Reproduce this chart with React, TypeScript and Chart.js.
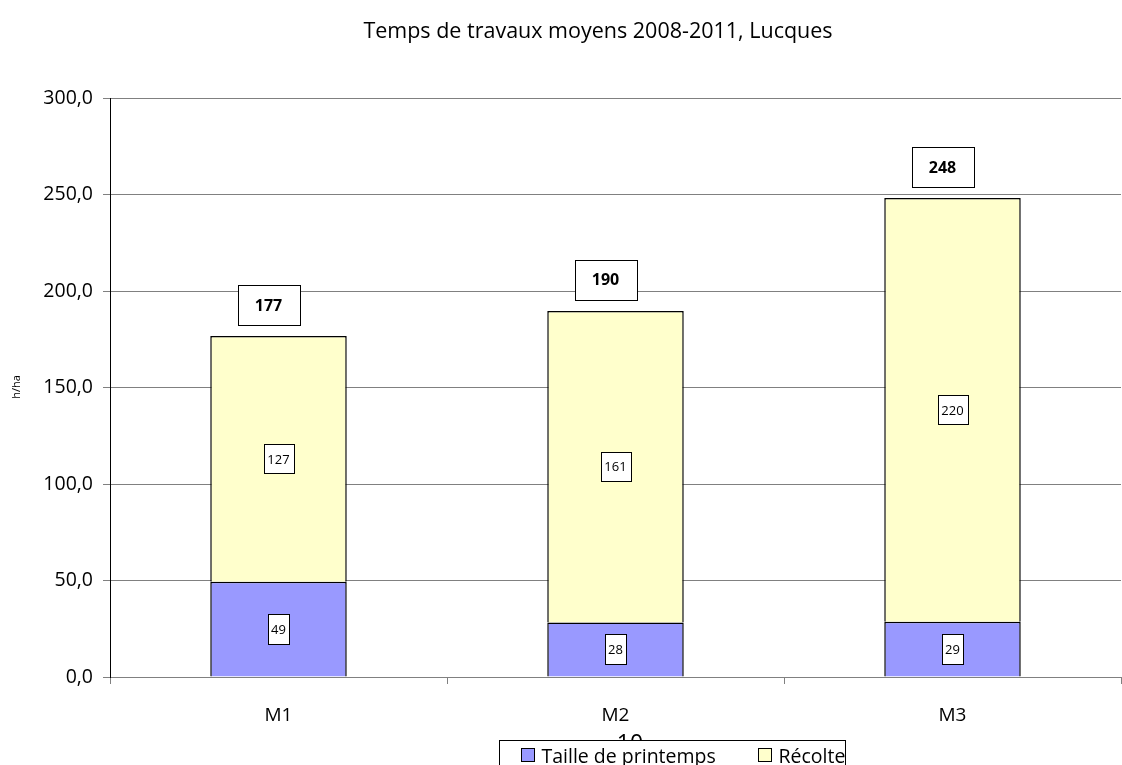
import React, { useEffect, useRef } from "react";
import { Chart, registerables } from "chart.js";

Chart.register(...registerables);

const chartTitle = "Temps de travaux moyens 2008-2011, Lucques";
const yAxisTitle = "h/ha";
const categories = ["M1", "M2", "M3"];
const seriesNames = ["Taille de printemps", "Récolte"];
const taille = [49.3, 28.3, 28.6];
const recolte = [127.4, 161.4, 219.6];
const taillesLabels = ["49", "28", "29"];
const recolteLabels = ["127", "161", "220"];
const totalLabels = ["177", "190", "248"];
const yTicks = [0, 50, 100, 150, 200, 250, 300];
const pageNumber = "10";

const colors = ["#9999FF", "#FFFFCC"];
const FONT = "'Open Sans', 'Noto Sans', sans-serif";

const overlay = {
  id: "overlay",
  afterDatasetsDraw(chart: any) {
    const ctx = chart.ctx;
    ctx.save();
    const drawBox = (x: number, y: number, text: string, bold: boolean, size: number, w: number, h: number) => {
      ctx.font = `${bold ? "bold " : ""}${size}px ${FONT}`;
      ctx.fillStyle = "#ffffff";
      ctx.strokeStyle = "#000000";
      ctx.lineWidth = 1;
      const bx = Math.round(x - w / 2) + 0.5;
      const by = Math.round(y - h / 2) + 0.5;
      ctx.fillRect(bx, by, w, h);
      ctx.strokeRect(bx, by, w, h);
      ctx.fillStyle = "#000000";
      ctx.textAlign = "center";
      ctx.textBaseline = "middle";
      ctx.fillText(text, x, y + 1);
    };
    const m0 = chart.getDatasetMeta(0);
    const m1 = chart.getDatasetMeta(1);
    m0.data.forEach((bar: any, i: number) => {
      const mid = (bar.y + bar.base) / 2;
      drawBox(bar.x, mid, taillesLabels[i], false, 13, 21, 30);
    });
    m1.data.forEach((bar: any, i: number) => {
      const mid = (bar.y + bar.base) / 2;
      drawBox(bar.x, mid, recolteLabels[i], false, 13, 30, 29);
      drawBox(bar.x - 10, bar.y - 12 - 19, totalLabels[i], true, 16, 62, 40);
    });

    // title
    ctx.fillStyle = "#000000";
    ctx.font = `21.5px ${FONT}`;
    ctx.textAlign = "center";
    ctx.textBaseline = "middle";
    ctx.fillText(chartTitle, 598, 32);

    // y title
    ctx.save();
    ctx.translate(17, 387);
    ctx.rotate(-Math.PI / 2);
    ctx.font = `11px ${FONT}`;
    ctx.fillText(yAxisTitle, 0, 0);
    ctx.restore();

    // page number (behind legend)
    ctx.font = `23px ${FONT}`;
    ctx.fillText(pageNumber, 630, 744);

    // legend
    const lx = 499.5, ly = 740.5, lw = 346, lh = 40;
    ctx.fillStyle = "#ffffff";
    ctx.fillRect(lx, ly, lw, lh);
    ctx.strokeStyle = "#000000";
    ctx.lineWidth = 1;
    ctx.strokeRect(lx, ly, lw, lh);
    const items = [
      { x: 521.5, name: seriesNames[0], color: colors[0] },
      { x: 758.5, name: seriesNames[1], color: colors[1] },
    ];
    ctx.font = `19.5px ${FONT}`;
    ctx.textAlign = "left";
    items.forEach((it) => {
      ctx.fillStyle = it.color;
      ctx.fillRect(it.x, 748.5, 13, 13);
      ctx.strokeStyle = "#000000";
      ctx.strokeRect(it.x, 748.5, 13, 13);
      ctx.fillStyle = "#000000";
      ctx.fillText(it.name, it.x + 20, 757);
    });
    ctx.restore();
  },
};

export default function App() {
  const ref = useRef<HTMLCanvasElement>(null);
  useEffect(() => {
    document.body.style.margin = "0";
    const chart = new Chart(ref.current!, {
      type: "bar",
      data: {
        labels: categories,
        datasets: [
          { label: seriesNames[0], data: taille, backgroundColor: colors[0], borderColor: "#000000", borderWidth: 1.5, barPercentage: 0.81, categoryPercentage: 0.5 },
          { label: seriesNames[1], data: recolte, backgroundColor: colors[1], borderColor: "#000000", borderWidth: 1.5, barPercentage: 0.81, categoryPercentage: 0.5 },
        ],
      },
      options: {
        animation: false,
        responsive: false,
        maintainAspectRatio: false,
        layout: { padding: { left: 0, right: 1, top: 98, bottom: 0 } },
        plugins: { legend: { display: false }, tooltip: { enabled: false }, title: { display: false } },
        scales: {
          x: {
            stacked: true,
            afterFit: (s: any) => { s.height = 88; },
            grid: { display: true, drawOnChartArea: false, drawTicks: true, tickLength: 7, offset: true, color: "#808080" },
            border: { display: true, color: "#808080" },
            ticks: { color: "#000000", padding: 20, font: { family: FONT, size: 19 } },
          },
          y: {
            stacked: true,
            min: 0,
            max: 300,
            afterFit: (s: any) => { s.width = 110; },
            afterBuildTicks: (s: any) => { s.ticks = yTicks.map((v) => ({ value: v })); },
            grid: { color: "#808080", tickLength: 7 },
            border: { display: true, color: "#000000" },
            ticks: {
              color: "#000000",
              padding: 10,
              font: { family: FONT, size: 19.5 },
              callback: (v: any) => Number(v).toFixed(1).replace(".", ","),
            },
          },
        },
      },
      plugins: [overlay],
    });
    return () => chart.destroy();
  }, []);
  return (
    <div style={{ position: "absolute", left: 0, top: 0, width: 1122, height: 765 }}>
      <canvas ref={ref} width={1122} height={765} style={{ width: 1122, height: 765 }} />
    </div>
  );
}
